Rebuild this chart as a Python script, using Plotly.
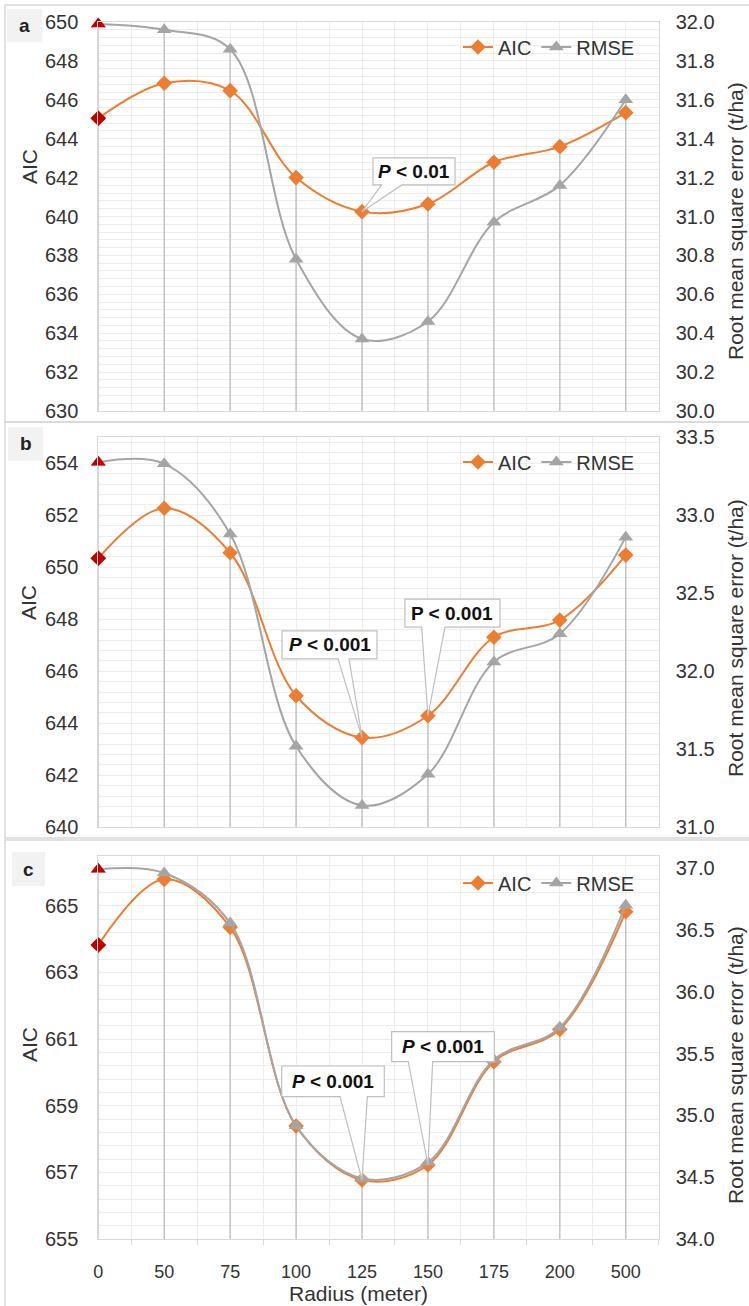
import plotly.graph_objects as go

# ---------------- data ----------------
radius_labels = ["0", "50", "75", "100", "125", "150", "175", "200", "500"]

aic_a = [645.05, 646.85, 646.47, 642.00, 640.25, 640.64, 642.79, 643.59, 645.34]
rmse_a = [31.99, 31.96, 31.86, 30.78, 30.37, 30.46, 30.97, 31.16, 31.60]

aic_b = [650.35, 652.27, 650.56, 645.06, 643.45, 644.29, 647.31, 647.97, 650.47]
rmse_b = [33.34, 33.33, 32.88, 31.52, 31.14, 31.34, 32.06, 32.24, 32.86]

aic_c = [663.82, 665.79, 664.35, 658.39, 656.77, 657.22, 660.32, 661.29, 664.82]
rmse_c = [36.99, 36.96, 36.555, 34.915, 34.49, 34.62, 35.45, 35.71, 36.70]

panel_letters = ["a", "b", "c"]
callout_a = ["<b><i>P</i> < 0.01</b>"]
callout_b = ["<b><i>P</i> < 0.001</b>", "<b>P < 0.001</b>"]
callout_c = ["<b><i>P</i> < 0.001</b>", "<b><i>P</i> < 0.001</b>"]

# ---------------- style / layout ----------------
W, H = 749, 1306
FONT = "Liberation Sans, Arial, sans-serif"
TXT = "#333333"
ORANGE = "#ED7D31"
GRAY = "#A5A5A5"
DARKRED = "#C00000"
GRID = "#EDEDED"
FRAME = "#D9D9D9"
DROP = "#C3C3C3"
XL, XR = 98.3, 658.7
XMAX = 8.5


def pyy(p):
    return 1 - p / H


def pxx(p):
    return p / W


panels = [
    dict(aic=aic_a, rmse=rmse_a, ar=[630, 650], rr=[30, 32], top=22, bot=411,
         atick0=630, rtick0=30.0, rdt=0.2, leg_y=47,
         title_l=167, title_r=221,
         frame=(5, 422), lab=(7, 42, 9, 42),
         callouts=[(4, callout_a[0], (11, 93, -53.7, -26.7), (19.7, 39.7))]),
    dict(aic=aic_b, rmse=rmse_b, ar=[640, 655], rr=[31, 33.5], top=437.3, bot=827.3,
         atick0=640, rtick0=31.0, rdt=0.5, leg_y=462,
         title_l=603, title_r=638,
         frame=(422, 838), lab=(8, 43, 427, 461),
         callouts=[(4, callout_b[0], (-80, 15, -106.7, -78.7), (-24, -13)),
                   (5, callout_b[1], (-23, 72, -116.7, -88.7), (-6.3, 17))]),
    dict(aic=aic_c, rmse=rmse_c, ar=[655, 666.5], rr=[34, 37.1], top=855.7, bot=1239,
         atick0=655, rtick0=34.0, rdt=0.5, leg_y=883,
         title_l=1045, title_r=1065,
         frame=(840, 1330), lab=(12, 45, 852, 886),
         callouts=[(4, callout_c[0], (-80.3, 22.3, -114, -83.3), (-22, 5.3)),
                   (5, callout_c[1], (-36.3, 66.3, -133.3, -103.3), (-19.7, 4.7))]),
]

fig = go.Figure()
layout = dict(width=W, height=H, margin=dict(l=0, r=0, t=0, b=0, autoexpand=False),
              paper_bgcolor="white", plot_bgcolor="white",
              font=dict(family=FONT, color=TXT, size=20), showlegend=True)
shapes = []
annotations = []
xs = list(range(len(radius_labels)))
xunit = XMAX / (XR - XL)

for k, p in enumerate(panels):
    n = k + 1
    xa = "x" if n == 1 else f"x{n}"
    ya_i = 2 * k + 1
    yb_i = 2 * k + 2
    ya = "y" if ya_i == 1 else f"y{ya_i}"
    yb = f"y{yb_i}"
    leg = "legend" if n == 1 else f"legend{n}"
    a_lo, a_hi = p["ar"]
    r_lo, r_hi = p["rr"]
    yunit = (a_hi - a_lo) / (p["bot"] - p["top"])

    # drop lines (to highest of the two series, in pixel terms)
    dx, dy = [], []
    for i in xs:
        r_eq = a_lo + (p["rmse"][i] - r_lo) / (r_hi - r_lo) * (a_hi - a_lo)
        dx += [i, i, None]
        dy += [a_lo, max(p["aic"][i], r_eq), None]
    fig.add_trace(go.Scatter(x=dx, y=dy, xaxis=xa, yaxis=ya, mode="lines",
                             line=dict(color=DROP, width=1.5), showlegend=False,
                             hoverinfo="skip"))
    # AIC
    fig.add_trace(go.Scatter(x=xs, y=p["aic"], xaxis=xa, yaxis=ya, name="AIC",
                             mode="lines+markers", legend=leg, cliponaxis=False,
                             line=dict(color=ORANGE, width=2, shape="spline", smoothing=1.0),
                             marker=dict(symbol="diamond", size=12, color=ORANGE)))
    fig.add_trace(go.Scatter(x=xs[:1], y=p["aic"][:1], xaxis=xa, yaxis=ya, mode="markers",
                             cliponaxis=False,
                             marker=dict(symbol="diamond", size=12, color=DARKRED),
                             showlegend=False))
    # RMSE
    fig.add_trace(go.Scatter(x=xs, y=p["rmse"], xaxis=xa, yaxis=yb, name="RMSE",
                             mode="lines+markers", legend=leg, cliponaxis=False,
                             line=dict(color=GRAY, width=2, shape="spline", smoothing=1.0),
                             marker=dict(symbol="triangle-up", size=13, color=GRAY)))
    fig.add_trace(go.Scatter(x=xs[:1], y=p["rmse"][:1], xaxis=xa, yaxis=yb, mode="markers",
                             cliponaxis=False,
                             marker=dict(symbol="triangle-up", size=13, color=DARKRED),
                             showlegend=False))

    xkey = "xaxis" if n == 1 else f"xaxis{n}"
    last = (k == len(panels) - 1)
    layout[xkey] = dict(domain=[pxx(XL), pxx(XR)], range=[0, XMAX], anchor=ya,
                        automargin=False,
                        tickvals=xs, ticktext=radius_labels if last else [""] * len(xs),
                        showticklabels=last, ticks="", tickfont=dict(size=18),
                        ticklabelstandoff=16,
                        showgrid=True, gridcolor=GRID, gridwidth=1,
                        minor=dict(tickvals=[i + 0.5 for i in xs], showgrid=True,
                                   gridcolor=GRID, gridwidth=1,
                                   ticks="outside" if last else "", ticklen=5,
                                   tickcolor=FRAME),
                        showline=True, linecolor=FRAME, linewidth=1, mirror=True,
                        zeroline=False, fixedrange=True)
    yakey = "yaxis" if ya_i == 1 else f"yaxis{ya_i}"
    layout[yakey] = dict(domain=[pyy(p["bot"]), pyy(p["top"])],
                         range=[a_lo, a_hi], anchor=xa, side="left", automargin=False,
                         tick0=p["atick0"], dtick=2, tickfont=dict(size=20),
                         ticks="", ticklabelstandoff=15,
                         showgrid=True, gridcolor=GRID, gridwidth=1,
                         minor=dict(tick0=a_lo, dtick=0.4, showgrid=True,
                                    gridcolor=GRID, gridwidth=1),
                         showline=True, linecolor=FRAME, linewidth=1, mirror=True,
                         zeroline=False, fixedrange=True)
    layout[f"yaxis{yb_i}"] = dict(overlaying=ya, anchor=xa, side="right", automargin=False,
                                  range=[r_lo, r_hi], tick0=p["rtick0"], dtick=p["rdt"],
                                  tickformat=".1f", tickfont=dict(size=20),
                                  ticks="", ticklabelstandoff=16,
                                  showgrid=False, zeroline=False, showline=False,
                                  fixedrange=True)
    layout[leg] = dict(orientation="h", x=pxx(640), xanchor="right",
                       y=pyy(p["leg_y"]), yanchor="middle",
                       font=dict(size=20, color=TXT), bgcolor="rgba(0,0,0,0)",
                       itemwidth=30, tracegroupgap=0, itemclick=False)

    # panel frame + label box
    f0, f1 = p["frame"]
    shapes.append(dict(type="rect", xref="paper", yref="paper", x0=pxx(5), x1=pxx(760),
                       y0=pyy(f1), y1=pyy(f0), line=dict(color=FRAME, width=1.5),
                       fillcolor="rgba(0,0,0,0)", layer="below"))
    lx0, lx1, ly0, ly1 = p["lab"]
    shapes.append(dict(type="rect", xref="paper", yref="paper", x0=pxx(lx0), x1=pxx(lx1),
                       y0=pyy(ly1), y1=pyy(ly0), line=dict(width=0),
                       fillcolor="#F2F2F2", layer="below"))
    annotations.append(dict(xref="paper", yref="paper", x=pxx((lx0 + lx1) / 2),
                            y=pyy((ly0 + ly1) / 2), text=f"<b>{panel_letters[k]}</b>",
                            showarrow=False, font=dict(size=19, color="#222222"),
                            xanchor="center", yanchor="middle"))
    # axis titles
    annotations.append(dict(xref="paper", yref="paper", x=pxx(29), y=pyy(p["title_l"]),
                            text="AIC", textangle=-90, showarrow=False,
                            font=dict(size=21), xanchor="center", yanchor="middle"))
    annotations.append(dict(xref="paper", yref="paper", x=pxx(735), y=pyy(p["title_r"]),
                            text="Root mean square error (t/ha)", textangle=-90,
                            showarrow=False, font=dict(size=21),
                            xanchor="center", yanchor="middle"))

    # callouts (wedge + box), anchored at data points
    for (ci, txt, (bl, br, bt, bb), (wl, wr)) in p["callouts"]:
        tx, ty = ci, p["aic"][ci]

        def X(off):
            return tx + off * xunit

        def Y(off):
            return ty - off * yunit

        path = (f"M {X(bl)},{Y(bt)} L {X(br)},{Y(bt)} L {X(br)},{Y(bb)} "
                f"L {X(wr)},{Y(bb)} L {tx},{ty} L {X(wl)},{Y(bb)} "
                f"L {X(bl)},{Y(bb)} Z")
        shapes.append(dict(type="path", xref=xa, yref=ya, path=path,
                           line=dict(color="#BFBFBF", width=1.2),
                           fillcolor="white", layer="above"))
        annotations.append(dict(xref=xa, yref=ya, x=tx, y=ty,
                                xshift=(bl + br) / 2, yshift=-(bt + bb) / 2,
                                text=txt, showarrow=False,
                                font=dict(size=19, color="#111111"),
                                xanchor="center", yanchor="middle"))

annotations.append(dict(xref="paper", yref="paper", x=pxx(358), y=pyy(1293),
                        text="Radius (meter)", showarrow=False, font=dict(size=21),
                        xanchor="center", yanchor="middle"))

layout["shapes"] = shapes
layout["annotations"] = annotations
fig.update_layout(**layout)
fig.write_html(
    "out.html",
    config={"displayModeBar": False, "staticPlot": True},
    post_script=("document.body.style.margin='0';document.body.style.padding='0';"
                 "document.documentElement.style.overflow='hidden';"),
)
